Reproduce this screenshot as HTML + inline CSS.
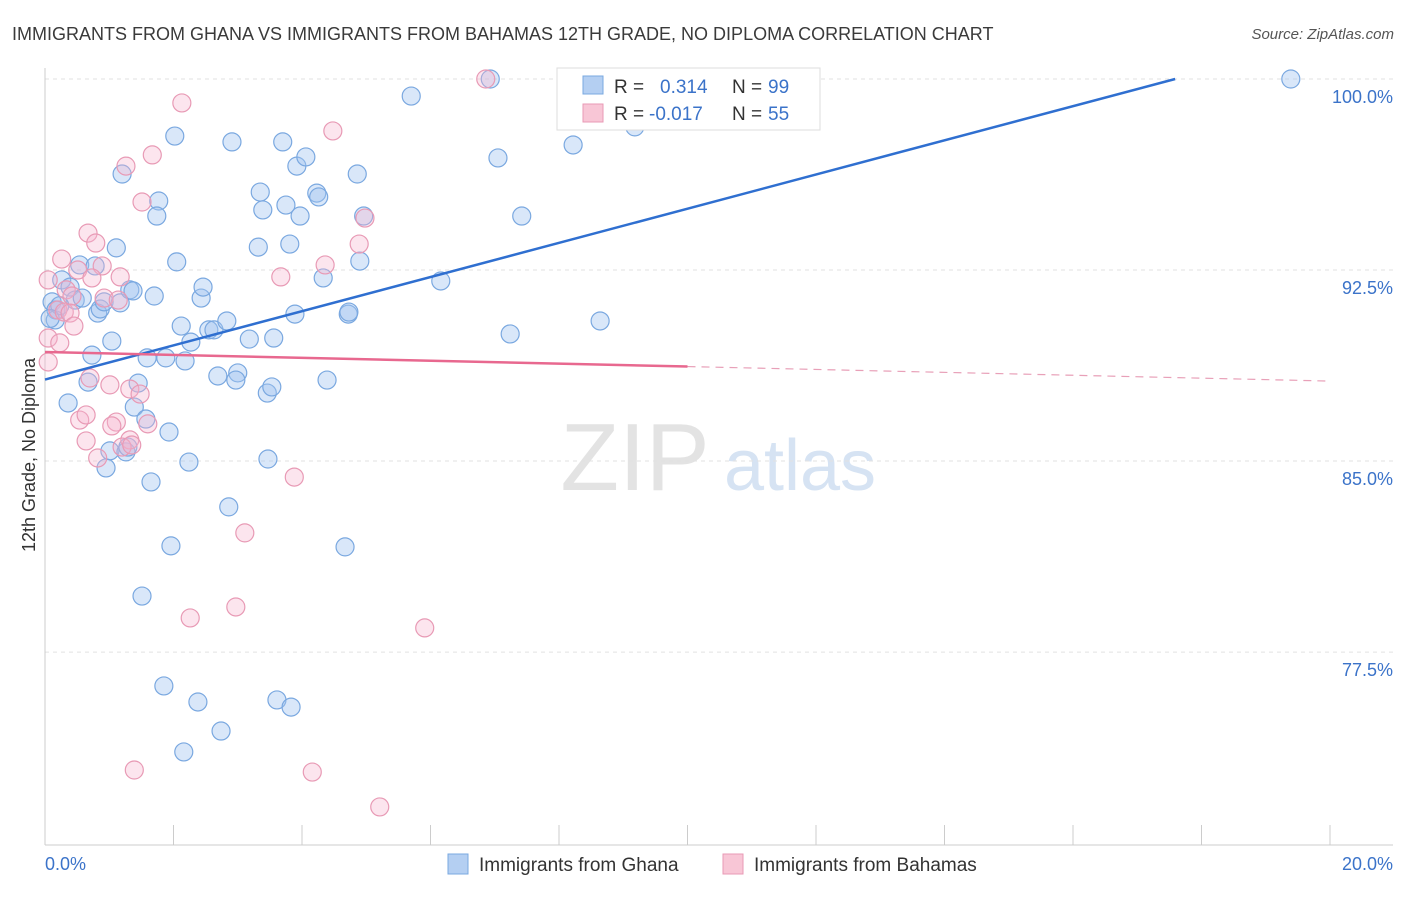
<!DOCTYPE html>
<html><head><meta charset="utf-8"><style>
body{margin:0;background:#fff;font-family:"Liberation Sans",sans-serif;}
svg text{font-family:"Liberation Sans",sans-serif;}
</style></head><body>
<svg width="1406" height="892" viewBox="0 0 1406 892" xmlns="http://www.w3.org/2000/svg">
<text x="12" y="40" font-size="18" fill="#3a3a3a">IMMIGRANTS FROM GHANA VS IMMIGRANTS FROM BAHAMAS 12TH GRADE, NO DIPLOMA CORRELATION CHART</text>
<text x="1394" y="39" font-size="15" fill="#555" font-style="italic" text-anchor="end">Source: ZipAtlas.com</text>
<g>
<text x="635" y="490" font-size="96" fill="#e3e3e3" text-anchor="middle" font-family="Liberation Serif">ZIP</text>
<text x="800" y="490" font-size="72" fill="#d6e3f3" text-anchor="middle">atlas</text>
</g>
<g id="grid"></g>
<g id="axes"></g>
<g id="pts"></g>
<g id="lines"></g>
<text x="35" y="455" font-size="18" fill="#333" text-anchor="middle" transform="rotate(-90 35 455)">12th Grade, No Diploma</text>
<g>
<rect x="557" y="68" width="263" height="62" fill="#fff" stroke="#ddd"/>
<rect x="583" y="76" width="20" height="18" fill="#b4cff2" stroke="#7aa8e0"/>
<rect x="583" y="104" width="20" height="18" fill="#f8c6d6" stroke="#e89ab5"/>
<text x="614" y="93" font-size="19" fill="#333">R = </text><text x="660" y="93" font-size="19" fill="#3b73c9">0.314</text>
<text x="732" y="93" font-size="19" fill="#333">N = </text><text x="768" y="93" font-size="19" fill="#3b73c9">99</text>
<text x="614" y="120" font-size="19" fill="#333">R = </text><text x="649" y="120" font-size="19" fill="#3b73c9">-0.017</text>
<text x="732" y="120" font-size="19" fill="#333">N = </text><text x="768" y="120" font-size="19" fill="#3b73c9">55</text>
</g>
<g>
<rect x="448" y="854" width="20" height="20" fill="#b4cff2" stroke="#7aa8e0"/>
<text x="479" y="871" font-size="19" fill="#333">Immigrants from Ghana</text>
<rect x="723" y="854" width="20" height="20" fill="#f8c6d6" stroke="#e89ab5"/>
<text x="754" y="871" font-size="19" fill="#333">Immigrants from Bahamas</text>
</g>
</svg>
<script>
const xTicks=[0,2,4,6,8,10,12,14,16,18,20];
const yTicks=[77.5,85,92.5,100];
const yTickLabels=["77.5%","85.0%","92.5%","100.0%"];
const ghanaX=[2.02,2.91,3.70,3.92,4.06,5.70,7.05,8.22,9.18,19.39,6.93,1.20,1.77,1.74,3.35,3.39,3.75,3.97,4.23,4.26,4.86,4.96,7.42,1.11,2.05,3.32,3.81,4.90,4.33,6.16,0.54,0.78,0.26,0.39,0.47,0.58,0.11,0.17,0.16,0.82,0.86,0.92,1.17,1.32,1.37,1.70,2.43,2.46,2.12,2.55,2.63,2.83,3.18,3.56,3.89,4.72,4.73,7.24,8.64,1.04,0.73,1.59,1.88,2.18,2.27,2.69,3.00,2.97,3.46,3.53,4.39,0.67,0.36,1.45,1.39,1.57,1.93,1.01,1.26,1.29,0.95,1.65,2.24,3.47,2.86,1.96,4.67,1.51,1.85,2.38,3.61,3.83,2.74,2.16,0.23,0.08];
const ghanaY=[97.76,97.53,97.53,96.58,96.94,99.33,96.90,97.41,98.12,100,100,96.27,95.21,94.62,95.56,94.86,95.05,94.62,95.52,95.37,96.27,94.62,94.62,93.37,92.82,93.40,93.52,92.85,92.19,92.07,92.70,92.66,92.11,91.83,91.32,91.40,91.25,90.93,90.54,90.81,90.97,91.25,91.21,91.72,91.68,91.48,91.40,91.83,90.30,90.15,90.15,90.50,89.79,89.83,90.77,90.77,90.85,89.99,90.50,89.71,89.16,89.05,89.05,88.93,89.67,88.34,88.46,88.18,87.67,87.91,88.18,88.10,87.28,88.06,87.12,86.65,86.14,85.40,85.36,85.55,84.73,84.18,84.96,85.08,83.20,81.67,81.63,79.70,76.17,75.54,75.62,75.34,74.40,73.58,91.1,90.6];
const bahX=[6.86,2.13,4.48,1.26,1.67,1.51,4.98,0.67,0.79,0.26,0.89,0.51,0.73,1.17,3.67,4.36,4.89,0.05,0.33,0.42,0.92,1.14,0.20,0.30,0.39,0.45,0.05,0.05,0.23,0.70,1.01,1.32,1.48,0.54,0.64,1.11,1.04,1.60,1.32,1.20,1.35,0.82,0.64,3.88,3.11,2.26,2.97,5.91,1.39,4.16,5.21];
const bahY=[100,99.06,97.96,96.58,97.02,95.17,94.54,93.95,93.56,92.93,92.66,92.50,92.19,92.23,92.23,92.70,93.52,92.11,91.72,91.48,91.40,91.32,90.93,90.85,90.81,90.30,89.83,88.89,89.64,88.26,87.99,87.83,87.63,86.61,86.81,86.53,86.38,86.46,85.83,85.55,85.63,85.12,85.79,84.37,82.18,78.84,79.27,78.45,72.87,72.79,71.42];
const ghanaTrend=[88.2,100.0,17.59];
const bahTrend=[89.28,88.14,10.0];
const NS="http://www.w3.org/2000/svg";
const sx=v=>45+v/20*1285;
const sy=v=>79+(100-v)*25.47;
function mk(tag,attrs,parent){const e=document.createElementNS(NS,tag);for(const k in attrs)e.setAttribute(k,attrs[k]);parent.appendChild(e);return e;}
const grid=document.getElementById('grid'),axes=document.getElementById('axes'),pts=document.getElementById('pts'),lines=document.getElementById('lines');
yTicks.forEach((t,i)=>{
 const l=mk('line',{x1:45,x2:1393,y1:sy(t),y2:sy(t),stroke:'#e2e2e2','stroke-dasharray':'4,4'},grid);
 
 
 const tx=mk('text',{x:1393,y:sy(t)+24,'font-size':18,fill:'#3b73c9','text-anchor':'end'},axes);
 tx.textContent=yTickLabels[i];
 
 
});
const ya=mk('line',{x1:45,x2:45,y1:68,y2:845,stroke:'#ccc'},axes);


const xa=mk('line',{x1:45,x2:1393,y1:845,y2:845,stroke:'#ccc'},axes);


xTicks.forEach(t=>{
 const l=mk('line',{x1:sx(t),x2:sx(t),y1:825,y2:845,stroke:'#ccc'},axes);
 
 
});
const x0=mk('text',{x:45,y:870,'font-size':18,fill:'#3b73c9'},axes);x0.textContent='0.0%';


const x1=mk('text',{x:1393,y:870,'font-size':18,fill:'#3b73c9','text-anchor':'end'},axes);x1.textContent='20.0%';


ghanaX.forEach((v,i)=>{
 const c=mk('circle',{cx:sx(v),cy:sy(ghanaY[i]),r:9,fill:'rgba(160,196,240,0.4)',stroke:'#7aa8e0','stroke-width':1.2},pts);
 
 
});
bahX.forEach((v,i)=>{
 const c=mk('circle',{cx:sx(v),cy:sy(bahY[i]),r:9,fill:'rgba(245,180,205,0.35)',stroke:'#e89ab5','stroke-width':1.2},pts);
 
 
});
const gl=mk('line',{x1:sx(0),y1:sy(ghanaTrend[0]),x2:sx(ghanaTrend[2]),y2:sy(ghanaTrend[1]),stroke:'#2f6fd0','stroke-width':2.5},lines);


const bm=bahTrend[0]+(bahTrend[1]-bahTrend[0])*bahTrend[2]/20;
const bl=mk('line',{x1:sx(0),y1:sy(bahTrend[0]),x2:sx(bahTrend[2]),y2:sy(bm),stroke:'#e8688f','stroke-width':2.5},lines);


const bd=mk('line',{x1:sx(bahTrend[2]),y1:sy(bm),x2:sx(20),y2:sy(bahTrend[1]),stroke:'#e8a0b8','stroke-width':1.2,'stroke-dasharray':'8,6'},lines);


</script>
</body></html>
